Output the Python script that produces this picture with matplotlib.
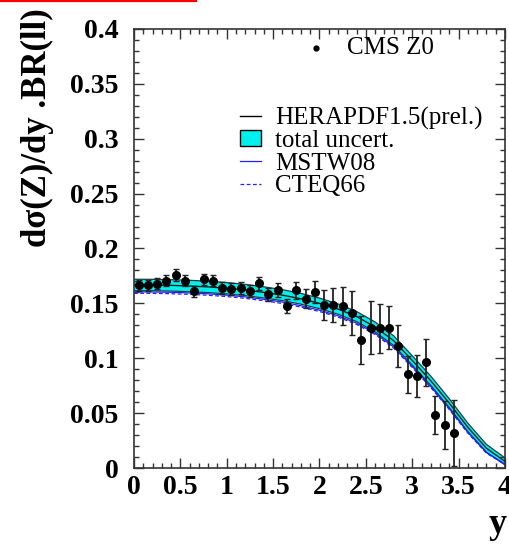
import numpy as np
import matplotlib
matplotlib.use('Agg')
import matplotlib.pyplot as plt
from matplotlib.lines import Line2D
from matplotlib.patches import Patch
from matplotlib.ticker import MultipleLocator

plt.rcParams['font.family'] = ['Liberation Serif', 'DejaVu Serif']

# CMS Z0 data
y_data = [0.05, 0.15, 0.25, 0.35, 0.45, 0.55, 0.65, 0.75, 0.85, 0.95,
          1.05, 1.15, 1.25, 1.35, 1.45, 1.55, 1.65, 1.75, 1.85, 1.95,
          2.05, 2.15, 2.25, 2.35, 2.45, 2.55, 2.65, 2.75, 2.85, 2.95,
          3.05, 3.15, 3.25, 3.35, 3.45]
xs_data = [0.1667, 0.1664, 0.1680, 0.1707, 0.1758, 0.1707, 0.1610, 0.1719, 0.1707, 0.1637,
           0.1631, 0.1643, 0.1613, 0.1683, 0.1582, 0.1622, 0.1476, 0.1619, 0.1543, 0.1600,
           0.1485, 0.1485, 0.1476, 0.1410, 0.1166, 0.1278, 0.1272, 0.1280, 0.1110, 0.0853,
           0.0838, 0.0963, 0.0483, 0.0390, 0.0316]
xs_err = [0.0050, 0.0048, 0.0050, 0.0052, 0.0052, 0.0052, 0.0050, 0.0052, 0.0052, 0.0055,
          0.0055, 0.0055, 0.0058, 0.0060, 0.0062, 0.0065, 0.0065, 0.0078, 0.0085, 0.0100,
          0.0140, 0.0155, 0.0175, 0.0200, 0.0220, 0.0240, 0.0225, 0.0200, 0.0190, 0.0170,
          0.0190, 0.0215, 0.0175, 0.0220, 0.0300]

# theory predictions
y_th = [0.0, 0.2, 0.4, 0.6, 0.8, 1.0, 1.2, 1.4, 1.6, 1.8, 2.0,
        2.2, 2.4, 2.6, 2.8, 3.0, 3.2, 3.4, 3.6, 3.8, 4.0]
hera = [0.1668, 0.1667, 0.1664, 0.1658, 0.1650, 0.1638, 0.1622, 0.1600, 0.1575, 0.1542, 0.1500,
        0.1448, 0.1380, 0.1285, 0.1160, 0.0980, 0.0795, 0.0590, 0.0370, 0.0180, 0.0060]
hera_hi = [0.1720, 0.1719, 0.1716, 0.1710, 0.1702, 0.1690, 0.1673, 0.1651, 0.1625, 0.1591, 0.1548,
           0.1495, 0.1426, 0.1330, 0.1204, 0.1023, 0.0837, 0.0630, 0.0408, 0.0215, 0.0092]
hera_lo = [0.1616, 0.1615, 0.1612, 0.1606, 0.1598, 0.1586, 0.1571, 0.1549, 0.1525, 0.1493, 0.1452,
           0.1401, 0.1334, 0.1240, 0.1116, 0.0937, 0.0753, 0.0550, 0.0332, 0.0145, 0.0028]
mstw = [0.1605, 0.1604, 0.1601, 0.1595, 0.1587, 0.1575, 0.1559, 0.1537, 0.1512, 0.1479, 0.1438,
        0.1387, 0.1320, 0.1227, 0.1103, 0.0926, 0.0742, 0.0540, 0.0325, 0.0140, 0.0035]
cteq = [0.1592, 0.1591, 0.1588, 0.1582, 0.1574, 0.1562, 0.1546, 0.1524, 0.1499, 0.1466, 0.1426,
        0.1375, 0.1308, 0.1216, 0.1092, 0.0916, 0.0733, 0.0532, 0.0318, 0.0135, 0.0032]

x_ticks = [0, 0.5, 1, 1.5, 2, 2.5, 3, 3.5, 4]
x_ticklabels = ['0', '0.5', '1', '1.5', '2', '2.5', '3', '3.5', '4']
y_ticks = [0, 0.05, 0.1, 0.15, 0.2, 0.25, 0.3, 0.35, 0.4]
y_ticklabels = ['0', '0.05', '0.1', '0.15', '0.2', '0.25', '0.3', '0.35', '0.4']
labels = ['HERAPDF1.5(prel.)', 'total uncert.', 'MSTW08', 'CTEQ66']

fig = plt.figure(figsize=(5.1, 5.44), dpi=100)
ax = fig.add_axes([0.2627, 0.1397, 0.7275, 0.807])

ax.fill_between(y_th, hera_lo, hera_hi, facecolor='#00f0f0', edgecolor='none', zorder=1)
ax.plot(y_th, hera_hi, color='#1f3f3f', lw=0.9, zorder=2)
ax.plot(y_th, hera_lo, color='#1f3f3f', lw=0.9, zorder=2)
ax.plot(y_th, hera, color='#102020', lw=1.0, zorder=3)
ax.plot(y_th, mstw, color='#2020ff', lw=0.9, zorder=2)
ax.plot(y_th, cteq, color='#2020ff', lw=0.9, ls=(0, (3, 2)), zorder=2)

ax.errorbar(y_data, xs_data, yerr=xs_err, fmt='o', color='black', ms=5.5,
            ecolor='#222222', elinewidth=1.3, capsize=2.5, capthick=1.0, zorder=5)

ax.set_xlim(0, 4)
ax.set_ylim(0, 0.4)
ax.set_xticks(x_ticks)
ax.set_xticklabels(x_ticklabels)
ax.set_yticks(y_ticks)
ax.set_yticklabels(y_ticklabels)
ax.xaxis.set_minor_locator(MultipleLocator(0.1))
ax.yaxis.set_minor_locator(MultipleLocator(0.01))
ax.tick_params(which='both', direction='in', top=True, right=True, color='#333333', width=1.0)
ax.tick_params(which='major', length=7)
ax.tick_params(which='minor', length=3.5)
for s in ax.spines.values():
    s.set_color('#333333')
    s.set_linewidth(1.2)
for lab in ax.get_xticklabels() + ax.get_yticklabels():
    lab.set_fontsize(20)
    lab.set_fontweight('bold')
ax.tick_params(axis='x', pad=5)
ax.tick_params(axis='y', pad=11)

fig.text(0.074, 0.765, 'dσ(Z)/dy .BR(ll)', rotation=90, ha='center', va='center',
         fontsize=25, fontweight='bold')
fig.text(0.975, 0.035, 'y', ha='center', va='center', fontsize=26, fontweight='bold')

# legend
leg = [Line2D([], [], color='black', lw=1.0),
       Patch(facecolor='#00f0f0', edgecolor='black', lw=1.0),
       Line2D([], [], color='#2020ff', lw=0.9),
       Line2D([], [], color='#2020ff', lw=0.9, ls=(0, (3, 2)))]
ax.legend(leg, labels, loc='upper left', bbox_to_anchor=(0.285, 0.8235), frameon=False,
          fontsize=18, handlelength=0.85, handleheight=0.6, handletextpad=0.55,
          labelspacing=0.02, borderaxespad=0, borderpad=0)

ax.plot([1.96], [0.3827], 'o', color='black', ms=3.5, clip_on=False)
ax.text(2.3, 0.3827, 'CMS Z0', fontsize=18, va='center', ha='left')

# red line on top
fig.add_artist(Line2D([0, 196 / 510], [1 - 1 / 544, 1 - 1 / 544], color='red', lw=1.6))

fig.savefig('out.png', dpi=100)
